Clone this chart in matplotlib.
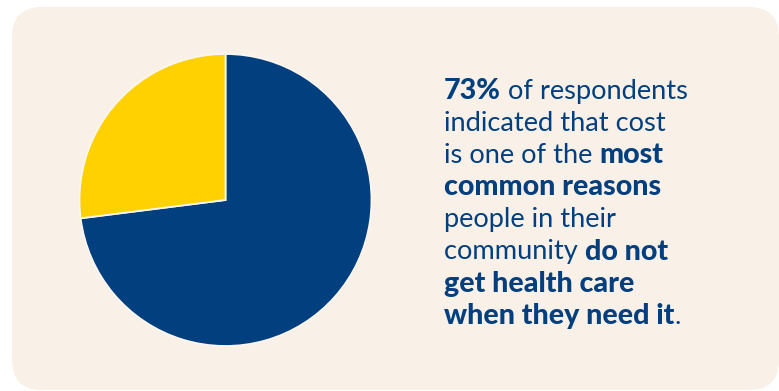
import matplotlib.pyplot as plt
from matplotlib.patches import FancyBboxPatch

# data
shares = [73, 27]
slice_colors = ["#023f7e", "#ffd100"]

# caption pieces: (text, bold) per line
caption_lines = [
    [("73%", True), (" of respondents", False)],
    [("indicated that cost", False)],
    [("is one of the ", False), ("most", True)],
    [("common reasons", True)],
    [("people in their", False)],
    [("community ", False), ("do not", True)],
    [("get health care", True)],
    [("when they need it", True), (".", False)],
]

W, H = 779, 391
fig = plt.figure(figsize=(W / 100, H / 100), dpi=100)
fig.patch.set_facecolor("white")

# background card (pixel coords via an axes covering the figure)
bg = fig.add_axes([0, 0, 1, 1])
bg.set_xlim(0, W)
bg.set_ylim(H, 0)
bg.axis("off")
pad = 30
card = FancyBboxPatch((12 + pad, 7 + pad), W - 12 - 2 * pad, 390 - 7 - 2 * pad,
                      boxstyle=f"round,pad={pad}", facecolor="#f9f1e8", edgecolor="none")
bg.add_patch(card)

# pie
cx, cy, r = 225.5, 200, 146
pie_ax = fig.add_axes([(cx - r) / W, 1 - (cy + r) / H, 2 * r / W, 2 * r / H])
pie_ax.pie(shares, colors=slice_colors, startangle=90, counterclock=False, radius=1,
           wedgeprops=dict(edgecolor="#fbf6f0", linewidth=1.3))
pie_ax.set_xlim(-1, 1)
pie_ax.set_ylim(-1, 1)
pie_ax.set_aspect("equal")
pie_ax.axis("off")

# caption with mixed weights
fig.canvas.draw()
renderer = fig.canvas.get_renderer()
x0 = 444
y_base = 99
line_step = 32.1
text_color = "#023f7e"
for i, pieces in enumerate(caption_lines):
    x = x0
    y = y_base + i * line_step
    for txt, bold in pieces:
        t = bg.text(x, y, txt, fontsize=20.6 if bold else 19.6, color=text_color,
                    family="Lato", fontweight="black" if bold else "normal",
                    va="baseline", ha="left")
        bb = t.get_window_extent(renderer=renderer)
        x += bb.width

fig.savefig("out.png", dpi=100, facecolor="white")
